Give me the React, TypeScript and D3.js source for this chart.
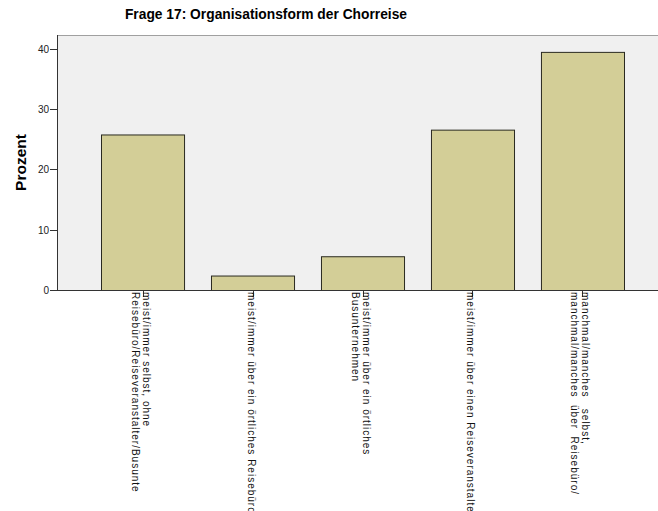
// @ts-nocheck
import * as d3 from "d3";
import React from "react";

const title = "Frage 17: Organisationsform der Chorreise";
const yLabel = "Prozent";
const categories = [
  ["meist/immer selbst, ohne", "Reisebüro/Reiseveranstalter/Busunte"],
  ["meist/immer über ein örtliches Reisebüro"],
  ["meist/immer über ein örtliches", "Busunternehmen"],
  ["meist/immer über einen Reiseveranstalter"],
  ["manchmal/manches   selbst,", "manchmal/manches  über  Reisebüro/"],
];
const values = [25.8, 2.4, 5.6, 26.6, 39.5];
const yTicks = [0, 10, 20, 30, 40];

const App = ({
  width = 658,
  height = 511,
  marginTop = 35,
  marginLeft = 57,
  plotBottom = 290,
}) => {
  const x = d3
    .scaleBand()
    .domain(categories.map((d, i) => i))
    .range([marginLeft, 668])
    .paddingInner(0.245)
    .paddingOuter(0.4);
  const y = d3.scaleLinear([0, 42.3], [plotBottom, marginTop]);

  return (
    <svg
      width={width}
      height={height}
      style={{ position: "absolute", left: 0, top: 0, background: "white" }}
      fontFamily="Arial, 'Liberation Sans', sans-serif"
    >
      <text
        transform="translate(266,19) scale(0.92,1)"
        textAnchor="middle"
        fontSize="15"
        fontWeight="bold"
        fill="#000"
      >
        {title}
      </text>
      <rect
        x={marginLeft}
        y={marginTop}
        width={width - marginLeft}
        height={plotBottom - marginTop}
        fill="#f0f0f0"
      />
      <line
        x1={marginLeft}
        x2={width}
        y1={marginTop + 0.5}
        y2={marginTop + 0.5}
        stroke="#a0a0a0"
      />
      {values.map((v, i) => (
        <rect
          key={i}
          x={x(i) + 0.5}
          y={y(v) + 0.5}
          width={x.bandwidth()}
          height={plotBottom - y(v)}
          fill="#d3ce97"
          stroke="#2a2a20"
          strokeWidth="1"
        />
      ))}
      <line
        x1={marginLeft}
        x2={width}
        y1={plotBottom + 0.5}
        y2={plotBottom + 0.5}
        stroke="#333"
      />
      <line
        x1={marginLeft + 0.5}
        x2={marginLeft + 0.5}
        y1={marginTop}
        y2={plotBottom + 1}
        stroke="#333"
      />
      {yTicks.map((t) => (
        <g key={t} transform={`translate(0,${Math.round(y(t)) + 0.5})`}>
          <line x1={marginLeft - 7} x2={marginLeft} stroke="#333" />
          <text
            x={marginLeft - 8}
            dy="0.35em"
            textAnchor="end"
            fontSize="10"
            fill="#222"
          >
            {t}
          </text>
        </g>
      ))}
      <text
        transform={`translate(26,${(marginTop + plotBottom) / 2}) rotate(-90)`}
        textAnchor="middle"
        fontSize="15.5"
        fontWeight="bold"
        fill="#000"
      >
        {yLabel}
      </text>
      {categories.map((lines, i) => {
        const cx = Math.round(x(i) + x.bandwidth() / 2) + 0.5;
        const n = lines.length;
        return (
          <g key={i}>
            <line
              x1={cx}
              x2={cx}
              y1={plotBottom}
              y2={plotBottom + 7}
              stroke="#333"
            />
            {lines.map((l, j) => (
              <text
                key={j}
                transform={`translate(${cx - 6 + (n - 1) * 5 - j * 10.5},${plotBottom + 2}) rotate(90)`}
                fontSize="10"
                letterSpacing="1"
                fill="#111"
                style={{ whiteSpace: "pre" }}
              >
                {l}
              </text>
            ))}
          </g>
        );
      })}
    </svg>
  );
};

export default App;
